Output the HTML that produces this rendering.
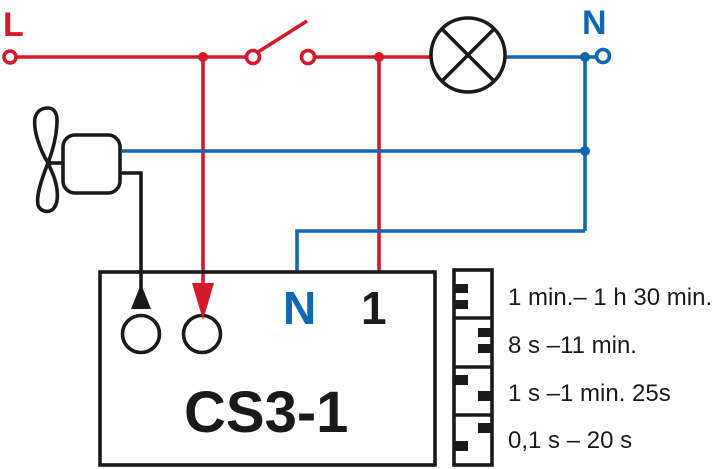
<!DOCTYPE html>
<html><head><style>
body{margin:0;background:#fff}
svg{display:block}
text{font-family:"Liberation Sans",sans-serif}
</style></head><body>
<svg width="720" height="469" viewBox="0 0 720 469">
<g fill="none" stroke-width="3.6">
<g stroke="#d7182a">
<line x1="16" y1="57" x2="246" y2="57"/>
<circle cx="10" cy="57" r="6"/>
<circle cx="253" cy="57" r="6.5"/>
<line x1="258" y1="52" x2="307" y2="21"/>
<circle cx="308" cy="57" r="6.5"/>
<line x1="315" y1="57" x2="431" y2="57"/>
<line x1="203" y1="57" x2="203" y2="285"/>
<line x1="379" y1="57" x2="379" y2="272"/>
</g>
<g stroke="#0f67b1">
<line x1="505" y1="57" x2="596" y2="57"/>
<circle cx="603" cy="56" r="6.5"/>
<line x1="585" y1="57" x2="585" y2="231"/>
<line x1="122" y1="151" x2="585" y2="151"/>
<polyline points="585,231 297,231 297,272"/>
</g>
<g stroke="#1a1a1a">
<circle cx="468" cy="55" r="37"/>
<line x1="442" y1="29" x2="494" y2="81"/>
<line x1="494" y1="29" x2="442" y2="81"/>
<rect x="63" y="135" width="57" height="58" rx="12"/>
<polyline points="120,173 141,173 141,300"/>
<line x1="48" y1="163" x2="63" y2="163"/>
<path d="M48,163 C40,150 33,130 35,118 C37,110 43,108 48,108 C53,108 57,112 57,120 C57,135 53,150 48,163 C42,178 36,195 38,205 C40,211 47,213 52,210 C57,206 58,198 57,190 C56,180 52,172 48,163Z"/>
<circle cx="141" cy="334" r="18.5"/>
<circle cx="202" cy="334" r="18.5"/>
<rect x="100" y="272" width="335" height="193"/>
<rect x="454" y="270" width="38" height="195"/>
<line x1="454" y1="318" x2="492" y2="318"/>
<line x1="454" y1="367" x2="492" y2="367"/>
<line x1="454" y1="415" x2="492" y2="415"/>
</g>
</g>
<g fill="#d7182a">
<circle cx="203" cy="57" r="5"/><circle cx="379" cy="57" r="5"/>
<polygon points="192,283 214,283 203,320"/>
</g>
<g fill="#0f67b1">
<circle cx="585" cy="57" r="5"/><circle cx="585" cy="151" r="5"/>
</g>
<g fill="#1a1a1a">
<polygon points="141,284 131,309 151,309"/>
<rect x="454" y="284" width="14" height="9"/><rect x="454" y="300" width="14" height="9"/>
<rect x="478" y="328" width="14" height="9"/><rect x="478" y="344" width="14" height="9"/>
<rect x="454" y="375" width="14" height="10"/><rect x="478" y="391" width="14" height="10"/>
<rect x="478" y="423" width="14" height="10"/><rect x="454" y="441" width="14" height="10"/>
</g>
<text x="3" y="36" font-size="34" font-weight="bold" fill="#d7182a">L</text>
<text x="582" y="34" font-size="34" font-weight="bold" fill="#0f67b1">N</text>
<text x="283" y="324" font-size="46" font-weight="bold" fill="#0f67b1">N</text>
<text x="361" y="324" font-size="46" font-weight="bold" fill="#1a1a1a">1</text>
<text x="184" y="432" font-size="58" font-weight="bold" fill="#1a1a1a">CS3-1</text>
<g font-size="24" fill="#1a1a1a">
<text x="508" y="305">1 min.– 1 h 30 min.</text>
<text x="508" y="353">8 s –11 min.</text>
<text x="508" y="401">1 s –1 min. 25s</text>
<text x="508" y="448">0,1 s – 20 s</text>
</g>
</svg>
</body></html>
